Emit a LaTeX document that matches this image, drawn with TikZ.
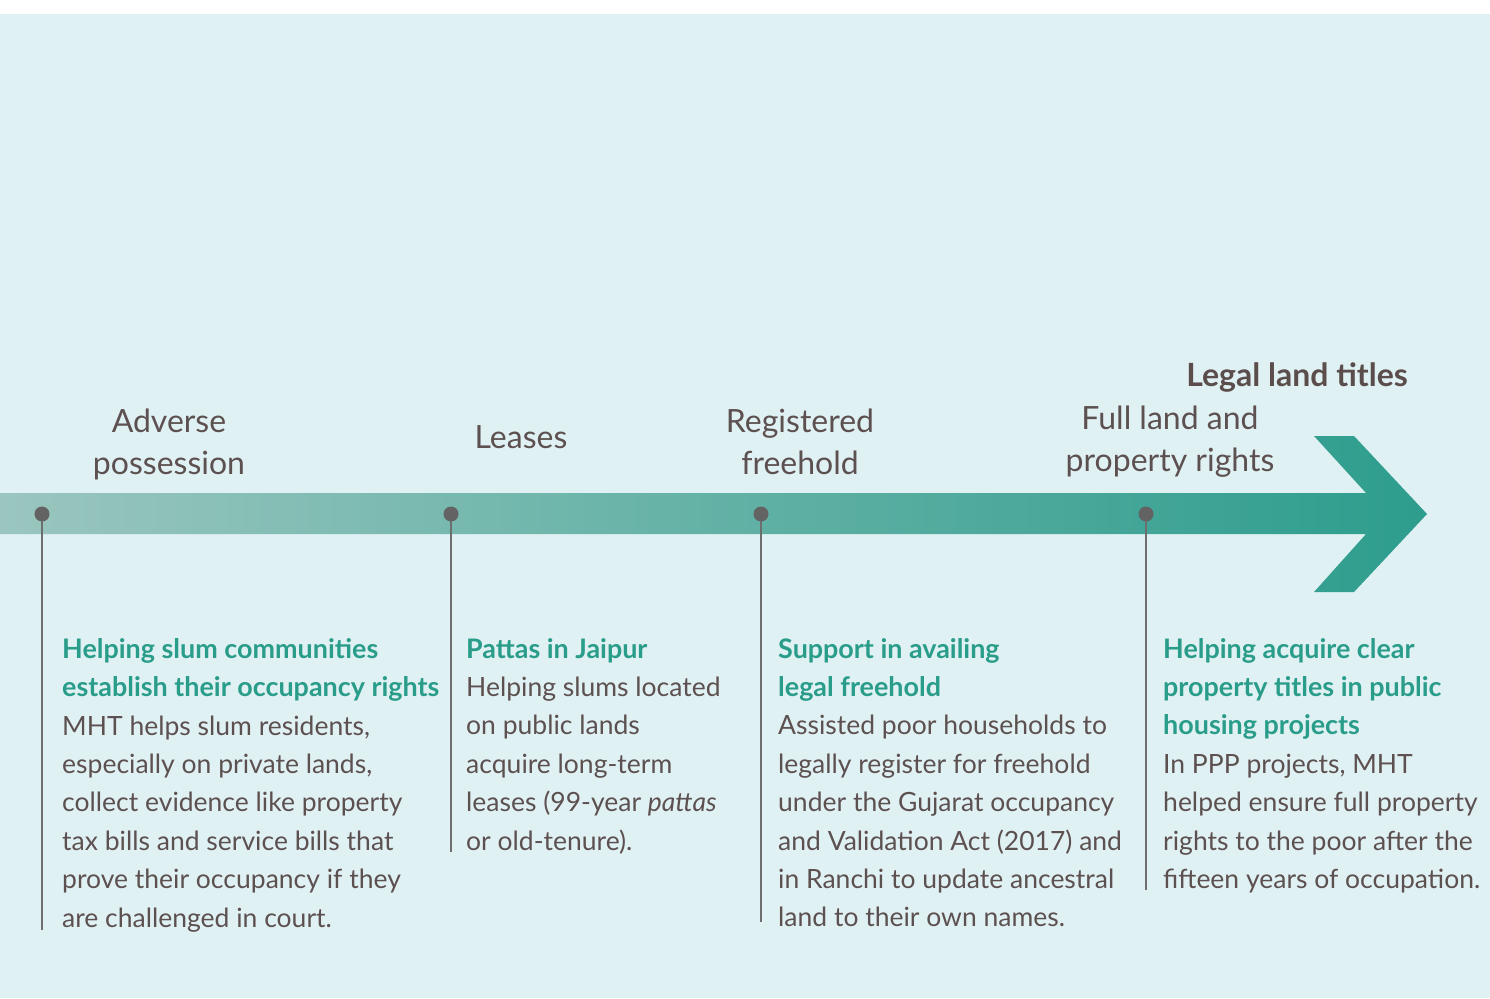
\documentclass[tikz,border=0pt]{standalone}
\usepackage{fontspec}
\setmainfont{Lato}
\usepackage{tikz}
\usetikzlibrary{shapes,backgrounds}

\definecolor{bgblue}{HTML}{E0F1F4}
\definecolor{barleft}{HTML}{9AC6BF}
\definecolor{barright}{HTML}{2D9D8D}
\definecolor{headteal}{HTML}{2A9D8A}
\definecolor{bodytext}{HTML}{5D5050}
\definecolor{titletext}{HTML}{5B4D4B}
\definecolor{stemgray}{HTML}{6E6E6E}

\newcommand{\stagehead}[1]{{\color{headteal}\fontsize{26.9}{38.4}\selectfont\bfseries #1}}

\begin{document}
\begin{tikzpicture}[x=1pt, y=-1pt,
    stagelabel/.style={text=bodytext, inner sep=0pt, anchor=north, align=center,
        font=\fontsize{32}{42}\selectfont},
    milestone/.style={circle, fill=stemgray!90!black, inner sep=0pt, minimum size=15pt},
    stem/.style={stemgray, line width=2.6pt},
    stagetext/.style={text=bodytext, inner sep=0pt, anchor=north west, align=left,
        font=\fontsize{26.5}{38.4}\selectfont}]
  \useasboundingbox (0,0) rectangle (1490,998);
  \fill[bgblue] (0,14) rectangle (1490,998);

  % arrow bar
  \shade[left color=barleft, right color=barright]
    (0,493) -- (1366,493) -- (1314,436) -- (1354,436) -- (1427,514)
    -- (1354,592) -- (1314,592) -- (1366,534) -- (0,534) -- cycle;

  % labels above the bar
  \node[stagelabel] (adverse) at (169,409) {Adverse\\possession};
  \node[stagelabel] (leases) at (521,425) {Leases};
  \node[stagelabel] (freehold) at (800,409) {Registered\\freehold};
  \node[stagelabel] (fullrights) at (1170,406) {Full land and\\property rights};
  \node[stagelabel, text=titletext, font=\fontsize{32}{42}\selectfont\bfseries] (titles) at (1297,363) {Legal land titles};

  % milestones and stems
  \foreach \i/\x/\y in {1/42/930, 2/451/852, 3/761/922, 4/1146/890} {
    \coordinate (e\i) at (\x,\y);
    \draw[stem] (\x,514) -- (e\i);
    \node[milestone] (d\i) at (\x,514) {};
  }

  % texts below the bar
  \node[stagetext] (adversetext) at (62,638) {%
    \stagehead{Helping slum communities}\\
    \stagehead{establish their occupancy rights}\\
    MHT helps slum residents,\\
    especially on private lands,\\
    collect evidence like property\\
    tax bills and service bills that\\
    prove their occupancy if they\\
    are challenged in court.};
  \node[stagetext] (leasestext) at (466,638) {%
    \stagehead{Pattas in Jaipur}\\
    Helping slums located\\
    on public lands\\
    acquire long-term\\
    leases (99-year \textit{pattas}\\
    or old-tenure).};
  \node[stagetext] (freeholdtext) at (778,638) {%
    \stagehead{Support in availing}\\
    \stagehead{legal freehold}\\
    Assisted poor households to\\
    legally register for freehold\\
    under the Gujarat occupancy\\
    and Validation Act (2017) and\\
    in Ranchi to update ancestral\\
    land to their own names.};
  \node[stagetext] (titlestext) at (1163,638) {%
    \stagehead{Helping acquire clear}\\
    \stagehead{property titles in public}\\
    \stagehead{housing projects}\\
    In PPP projects, MHT\\
    helped ensure full property\\
    rights to the poor after the\\
    fifteen years of occupation.};
\end{tikzpicture}
\end{document}
